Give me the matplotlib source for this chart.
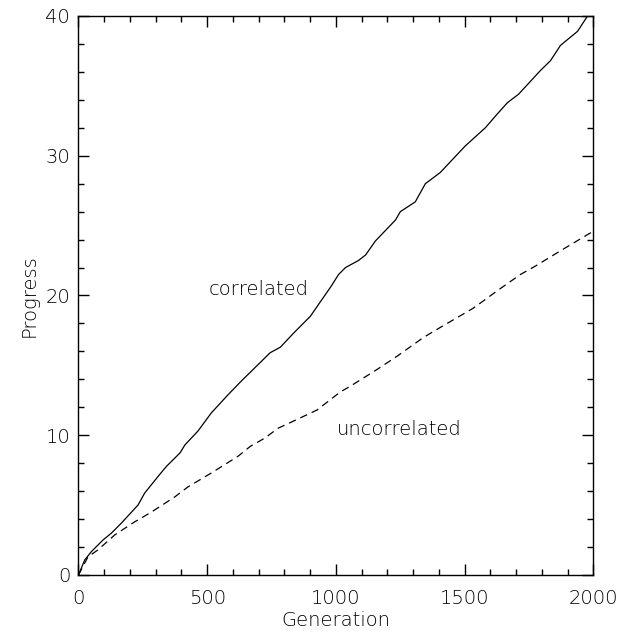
import numpy as np
import matplotlib
matplotlib.use("Agg")
import matplotlib.pyplot as plt

# values
gen_corr = [0, 24, 50, 95, 128, 166, 231, 257, 309, 341, 395, 413, 464, 516, 581,
            639, 667, 744, 784, 835, 889, 900, 945, 979, 1010, 1037, 1087, 1115,
            1153, 1231, 1250, 1308, 1347, 1405, 1502, 1580, 1627, 1666, 1709, 1744,
            1794, 1833, 1872, 1938, 1977, 2000]
prog_corr = [0, 1.07, 1.67, 2.5, 3.0, 3.7, 5.0, 5.86, 7.05, 7.76, 8.75, 9.3, 10.3,
             11.6, 12.9, 14.0, 14.5, 15.9, 16.3, 17.3, 18.3, 18.5, 19.7, 20.6, 21.5,
             22.0, 22.5, 22.9, 23.9, 25.4, 26.0, 26.7, 28.0, 28.8, 30.7, 32.0, 33.0,
             33.8, 34.4, 35.1, 36.1, 36.8, 37.9, 38.9, 40.0, 40.5]

gen_unc = [0, 37, 76, 141, 218, 283, 375, 425, 516, 620, 667, 724, 775, 822, 926,
           1017, 1055, 1159, 1237, 1340, 1413, 1534, 1631, 1716, 1774, 1872, 1981, 2000]
prog_unc = [0, 1.3, 1.8, 2.87, 3.8, 4.5, 5.6, 6.3, 7.3, 8.5, 9.2, 9.8, 10.5, 10.9,
            11.8, 13.1, 13.5, 14.7, 15.65, 17.0, 17.8, 19.1, 20.4, 21.5, 22.1, 23.2,
            24.4, 24.6]

x_ticks = [0, 500, 1000, 1500, 2000]
y_ticks = [0, 10, 20, 30, 40]

plt.rcParams['font.weight'] = 'light'
plt.rcParams['axes.labelweight'] = 'light'
txt_col = "black"

fig = plt.figure(figsize=(6.21, 6.34), dpi=100)
ax = fig.add_axes([0.1264, 0.0931, 0.8293, 0.8817])

ax.plot(gen_corr, prog_corr, color="black", lw=0.9)
ax.plot(gen_unc, prog_unc, color="black", lw=0.9, dashes=(6, 4))

ax.text(505, 20.4, "correlated", fontsize=14, va="center", color=txt_col)
ax.text(1005, 10.4, "uncorrelated", fontsize=14, va="center", color=txt_col)

ax.set_xlim(0, 2000)
ax.set_ylim(0, 40)
ax.set_xticks(x_ticks)
ax.set_yticks(y_ticks)
ax.set_xticks(np.arange(0, 2001, 100), minor=True)
ax.set_yticks(np.arange(0, 41, 2), minor=True)
ax.tick_params(which="both", direction="in", top=True, right=True, width=1, labelsize=14,
               labelcolor=txt_col)
ax.tick_params(which="major", length=8)
ax.tick_params(which="minor", length=4)
ax.tick_params(axis="x", pad=10)
ax.tick_params(axis="y", pad=6)
for s in ax.spines.values():
    s.set_linewidth(1.0)

ax.set_xlabel("Generation", fontsize=14, color=txt_col, labelpad=2)
ax.set_ylabel("Progress", fontsize=14, color=txt_col, labelpad=5)

fig.savefig("out.png", dpi=100)
